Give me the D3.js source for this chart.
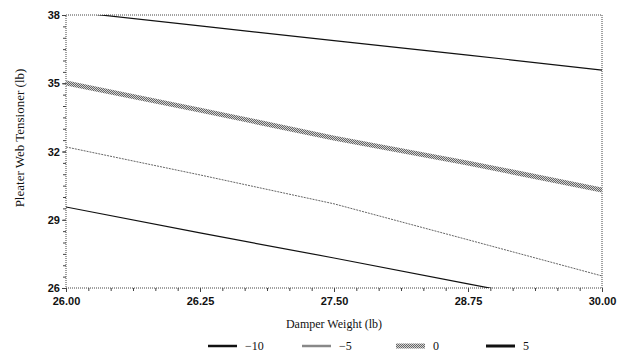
<!DOCTYPE html>
<html>
<head>
<meta charset="utf-8">
<script src="https://cdn.jsdelivr.net/npm/d3@7"></script>
<style>
  body { margin: 0; background: #fff; }
  svg { display: block; }
  .tick text { font-family: "Liberation Sans", Arial, sans-serif; font-weight: bold; font-size: 11px; fill: #111; }
  .title { font-family: "Liberation Serif", "Times New Roman", serif; font-size: 12px; fill: #111; }
  .legend text { font-family: "Liberation Serif", "Times New Roman", serif; font-size: 12px; fill: #111; }
</style>
</head>
<body>
<div id="chart"></div>
<script>
// damper weight positions (lb)
const xValues = [26, 27, 28, 29, 30];
const xTickLabels = ['26.00', '26.25', '27.50', '28.75', '30.00'];
const yTicks = [26, 29, 32, 35, 38];

// pleater web tension per series (values beyond the axis get clipped)
const seriesNames = ['-10', '-5', '0', '5'];
const valsM10 = [29.56, 28.42, 27.32, 26.18, 25.06];
const valsM5 = [32.20, 30.97, 29.70, 28.12, 26.53];
const vals0 = [35.01, 33.82, 32.59, 31.49, 30.31];
const vals5 = [38.17, 37.52, 36.87, 36.24, 35.58];

const width = 626, height = 354;
const margin = { top: 15, right: 24, bottom: 66, left: 66 };
const w = width - margin.left - margin.right;
const h = height - margin.top - margin.bottom;

const svg = d3.select('#chart').append('svg')
  .attr('width', width)
  .attr('height', height);

const defs = svg.append('defs');
// halftone look for the thick 0 line
const pat = defs.append('pattern')
  .attr('id', 'hatch')
  .attr('patternUnits', 'userSpaceOnUse')
  .attr('width', 2).attr('height', 2);
pat.append('rect').attr('width', 2).attr('height', 2).attr('fill', '#d4d4d4');
pat.append('rect').attr('width', 1).attr('height', 1).attr('fill', '#666');
pat.append('rect').attr('x', 1).attr('y', 1).attr('width', 1).attr('height', 1).attr('fill', '#666');

defs.append('clipPath').attr('id', 'clip')
  .append('rect').attr('width', w).attr('height', h);

const x = d3.scaleLinear().domain([26, 30]).range([0, w]);
const y = d3.scaleLinear().domain([26, 38]).range([h, 0]);

const g = svg.append('g')
  .attr('transform', 'translate(' + margin.left + ',' + margin.top + ')');

// frame (dotted)
g.append('rect')
  .attr('width', w).attr('height', h)
  .attr('fill', 'none')
  .attr('stroke', '#444')
  .attr('stroke-width', 1)
  .attr('stroke-dasharray', '1,1');

// minor ticks, 6 per major step
const xMinor = d3.range(0, 25).map(i => 26 + i / 6);
g.append('g')
  .attr('transform', 'translate(0,' + h + ')')
  .call(d3.axisBottom(x).tickValues(xMinor).tickSize(3).tickFormat(''))
  .call(a => a.select('.domain').remove())
  .selectAll('line').attr('stroke', '#444');

const yMinor = d3.range(26, 38.01, 0.5);
g.append('g')
  .call(d3.axisLeft(y).tickValues(yMinor).tickSize(3).tickFormat(''))
  .call(a => a.select('.domain').remove())
  .selectAll('line').attr('stroke', '#444');

// major ticks + labels
g.append('g')
  .attr('transform', 'translate(0,' + h + ')')
  .call(d3.axisBottom(x).tickValues(xValues).tickSize(4).tickPadding(5)
    .tickFormat((d, i) => xTickLabels[i]))
  .call(a => a.select('.domain').remove())
  .selectAll('line').attr('stroke', '#444');

g.append('g')
  .call(d3.axisLeft(y).tickValues(yTicks).tickSize(4).tickPadding(2))
  .call(a => a.select('.domain').remove())
  .selectAll('line').attr('stroke', '#444');

// lines
const line = d3.line()
  .x((d, i) => x(xValues[i]))
  .y(d => y(d));

const styles = [
  { data: valsM10, stroke: '#111', width: 1.2, dash: null },
  { data: valsM5, stroke: '#666', width: 1, dash: '2,1' },
  { data: vals0, stroke: 'url(#hatch)', width: 5, dash: null },
  { data: vals5, stroke: '#111', width: 1.2, dash: null }
];

const plot = g.append('g').attr('clip-path', 'url(#clip)');
styles.forEach(s => {
  plot.append('path')
    .datum(s.data)
    .attr('d', line)
    .attr('fill', 'none')
    .attr('stroke', s.stroke)
    .attr('stroke-width', s.width)
    .attr('stroke-dasharray', s.dash);
});

// axis titles
svg.append('text')
  .attr('class', 'title')
  .attr('x', margin.left + w / 2)
  .attr('y', 328)
  .attr('text-anchor', 'middle')
  .text('Damper Weight (lb)');

svg.append('text')
  .attr('class', 'title')
  .style('font-size', '13px')
  .attr('transform', 'translate(24,138) rotate(-90)')
  .attr('text-anchor', 'middle')
  .text('Pleater Web Tensioner (lb)');

// legend
const legendX = [208, 302, 396, 486];
const legendStyles = [
  { stroke: '#111', width: 2.5 },
  { stroke: '#888', width: 2.5 },
  { stroke: 'url(#hatch)', width: 5 },
  { stroke: '#111', width: 3 }
];
const legend = svg.append('g').attr('class', 'legend');
seriesNames.forEach((name, i) => {
  const lg = legend.append('g').attr('transform', 'translate(' + legendX[i] + ',346)');
  lg.append('line')
    .attr('x1', 0).attr('x2', 29)
    .attr('y1', 0).attr('y2', 0)
    .attr('stroke', legendStyles[i].stroke)
    .attr('stroke-width', legendStyles[i].width);
  lg.append('text')
    .attr('x', 37)
    .attr('y', 4)
    .text(name.replace('-', '\u2212'));
});
</script>
</body>
</html>
